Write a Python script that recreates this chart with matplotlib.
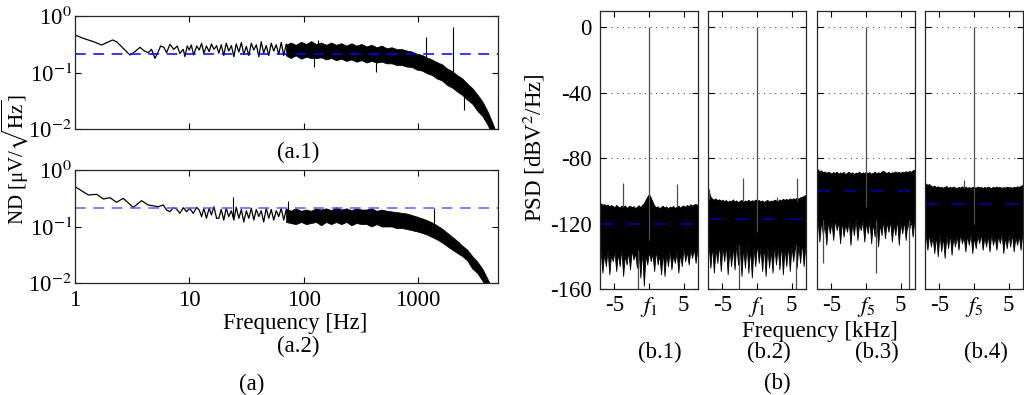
import matplotlib
matplotlib.use("Agg")
import matplotlib.pyplot as plt

plt.rcParams['font.family'] = ['Liberation Serif', 'DejaVu Serif']
plt.rcParams['mathtext.fontset'] = 'stix'
plt.rcParams['axes.unicode_minus'] = False
plt.rcParams['font.size'] = 16.5

# ---------------- dades (a): densitat de soroll ----------------
# tram de baixa freqüència (línia)
a1_f = [1.0, 1.18, 1.45, 1.71, 1.89, 2.13, 2.31, 2.64, 3.02, 3.34, 3.70, 4.01, 4.37,
        4.67, 5.00, 5.35, 5.60, 5.99, 6.32, 6.76, 7.32, 7.83, 8.26, 8.84, 9.14, 9.58,
        9.97, 10.4, 10.9, 11.6, 12.2, 12.8, 13.4, 14.1, 14.9, 15.6, 16.4, 17.3]
a1_v = [0.461, 0.403, 0.351, 0.307, 0.337, 0.376, 0.351, 0.268, 0.204, 0.234, 0.279,
        0.243, 0.224, 0.257, 0.178, 0.234, 0.294, 0.279, 0.224, 0.315, 0.257, 0.294,
        0.218, 0.257, 0.191, 0.294, 0.250, 0.307, 0.204, 0.294, 0.250, 0.328, 0.218,
        0.294, 0.234, 0.320, 0.257, 0.294]
a2_f = [1.00, 1.31, 1.55, 1.77, 2.02, 2.31, 2.64, 3.23, 3.82, 4.37, 5.35, 5.91, 6.32,
        6.76, 7.22, 7.73, 8.26, 8.84, 9.45, 10.1, 10.8, 11.6, 12.2, 12.8, 13.4, 14.1,
        14.9, 15.6, 16.4, 17.3]
a2_v = [0.507, 0.361, 0.371, 0.307, 0.324, 0.268, 0.315, 0.218, 0.286, 0.240, 0.224,
        0.240, 0.196, 0.183, 0.215, 0.204, 0.171, 0.215, 0.183, 0.210, 0.171, 0.218,
        0.196, 0.149, 0.210, 0.140, 0.210, 0.160, 0.224, 0.140]

# tram 18-74 Hz: línia molt oscil·lant
wig_f = [18.1, 19.0, 20.0, 21.0, 22.1, 23.3, 24.5, 25.7, 27.1, 28.5,
         29.9, 31.5, 33.1, 34.8, 36.6, 38.5, 40.5, 42.5, 44.7, 47.0,
         49.5, 52.0, 54.7, 57.5, 60.5, 63.6, 66.9, 70.3, 74.0]
a1_wig = [0.22, 0.31, 0.20, 0.33, 0.24, 0.30, 0.19, 0.32, 0.23, 0.34,
          0.21, 0.29, 0.20, 0.33, 0.25, 0.31, 0.19, 0.35, 0.22, 0.30,
          0.20, 0.33, 0.24, 0.31, 0.21, 0.34, 0.20, 0.32, 0.23]
a2_wig = [0.14, 0.20, 0.13, 0.21, 0.15, 0.19, 0.13, 0.22, 0.14, 0.20,
          0.12, 0.19, 0.14, 0.21, 0.13, 0.20, 0.15, 0.19, 0.12, 0.21,
          0.14, 0.20, 0.13, 0.19, 0.15, 0.21, 0.13, 0.20, 0.14]

# tram dens: envolupants superior/inferior
band_f = [70, 77, 85, 95, 105, 116, 128, 142, 157, 174,
          192, 213, 236, 261, 289, 320, 354, 392, 434, 480,
          531, 588, 651, 720, 797, 882, 976, 1080, 1195, 1323,
          1464, 1620, 1793, 1984, 2196, 2430, 2690, 2977, 3294, 3646,
          4035, 4466, 5000]
a1_hi = [0.31, 0.34, 0.31, 0.35, 0.32, 0.36, 0.32, 0.34, 0.31, 0.34,
         0.31, 0.33, 0.30, 0.33, 0.30, 0.32, 0.29, 0.31, 0.28, 0.30,
         0.27, 0.28, 0.26, 0.26, 0.245, 0.235, 0.215, 0.205, 0.185, 0.17,
         0.152, 0.14, 0.118, 0.106, 0.09, 0.079, 0.064, 0.053, 0.041, 0.031,
         0.021, 0.013, 0.007]
a1_lo = [0.20, 0.18, 0.20, 0.175, 0.19, 0.18, 0.18, 0.185, 0.17, 0.18,
         0.165, 0.175, 0.16, 0.17, 0.155, 0.165, 0.15, 0.16, 0.15, 0.155,
         0.145, 0.145, 0.135, 0.135, 0.127, 0.125, 0.112, 0.108, 0.097, 0.09,
         0.078, 0.072, 0.06, 0.054, 0.046, 0.04, 0.033, 0.028, 0.021, 0.017,
         0.012, 0.008, 0.006]
a2_hi = [0.21, 0.19, 0.21, 0.19, 0.20, 0.19, 0.21, 0.20, 0.21, 0.195,
         0.22, 0.20, 0.21, 0.195, 0.21, 0.20, 0.20, 0.21, 0.19, 0.20,
         0.19, 0.185, 0.18, 0.175, 0.17, 0.16, 0.15, 0.14, 0.13, 0.118,
         0.105, 0.092, 0.078, 0.066, 0.056, 0.046, 0.039, 0.030, 0.024, 0.018,
         0.012, 0.008, 0.006]
a2_lo = [0.12, 0.115, 0.11, 0.12, 0.11, 0.115, 0.12, 0.105, 0.12, 0.11,
         0.12, 0.11, 0.12, 0.105, 0.115, 0.11, 0.11, 0.10, 0.11, 0.10,
         0.10, 0.10, 0.093, 0.094, 0.09, 0.086, 0.082, 0.077, 0.072, 0.065,
         0.059, 0.052, 0.045, 0.039, 0.034, 0.030, 0.025, 0.018, 0.015, 0.011,
         0.008, 0.006, 0.005]

# pics aïllats (freq, baix, alt)
a1_spk_f = [122, 133, 431, 1177, 2015, 2500, 4950]
a1_spk_lo = [0.127, 0.2, 0.103, 0.14, 0.069, 0.022, 0.008]
a1_spk_hi = [0.2, 0.38, 0.16, 0.42, 0.65, 0.04, 0.043]
a2_spk_f = [24.1, 73, 1390]
a2_spk_lo = [0.15, 0.14, 0.11]
a2_spk_hi = [0.328, 0.286, 0.21]

a_floor = [0.21, 0.21]

# ---------------- dades (b): PSD ----------------
khz = [-7.25, -7.0, -6.75, -6.5, -6.25, -6.0, -5.75, -5.5, -5.25, -5.0,
       -4.75, -4.5, -4.25, -4.0, -3.75, -3.5, -3.25, -3.0, -2.75, -2.5,
       -2.25, -2.0, -1.75, -1.5, -1.25, -1.0, -0.75, -0.5, -0.25, 0.0,
       0.25, 0.5, 0.75, 1.0, 1.25, 1.5, 1.75, 2.0, 2.25, 2.5,
       2.75, 3.0, 3.25, 3.5, 3.75, 4.0, 4.25, 4.5, 4.75, 5.0,
       5.25, 5.5, 5.75, 6.0, 6.25, 6.5, 6.75, 7.0, 7.25]

b1_hi = [-108.0, -107.6, -108.5, -108.1, -109.0, -108.3, -109.4, -108.7, -109.2, -110.0,
         -108.6, -109.5, -110.2, -109.0, -109.8, -108.9, -110.4, -109.6, -109.1, -110.0,
         -109.3, -110.5, -109.7, -108.8, -109.9, -108.6, -107.5, -105.5, -103.5, -102.0,
         -104.0, -106.5, -108.9, -110.0, -109.4, -110.6, -109.8, -109.1, -110.3, -109.5,
         -110.8, -109.6, -110.1, -109.2, -110.5, -109.7, -109.0, -110.2, -109.4, -108.9,
         -109.8, -108.6, -109.3, -108.2, -109.0, -108.4, -107.9, -108.6, -108.1]
b1_lo = [-144, -137, -150, -138, -146, -136, -151, -139, -143, -137,
         -149, -138, -146, -135, -152, -139, -145, -137, -148, -136,
         -142, -138, -147, -137, -153, -136, -158, -139, -145, -137,
         -143, -138, -149, -136, -145, -139, -151, -137, -152, -138,
         -146, -136, -148, -139, -144, -137, -150, -138, -146, -135,
         -143, -137, -145, -136, -141, -135, -144, -136, -140]
b2_hi = [-99.5, -100.0, -103.5, -104.8, -105.3, -104.6, -105.8, -105.1, -106.0, -105.4,
         -106.3, -105.6, -106.8, -105.9, -106.4, -105.2, -106.6, -105.8, -106.9, -106.1,
         -105.5, -106.7, -105.9, -106.3, -105.4, -106.5, -105.7, -106.2, -105.3, -106.0,
         -105.6, -106.4, -105.8, -106.9, -106.1, -105.5, -106.6, -105.9, -106.2, -105.4,
         -105.8, -106.3, -105.2, -105.9, -104.8, -105.5, -104.9, -105.6, -104.6, -105.2,
         -104.5, -105.0, -104.2, -104.8, -104.0, -103.6, -103.2, -102.5, -101.8]
b2_lo = [-141, -134, -147, -133, -150, -135, -144, -132, -149, -134,
         -143, -133, -151, -135, -146, -134, -148, -132, -145, -135,
         -152, -134, -147, -133, -150, -135, -153, -134, -146, -132,
         -144, -135, -149, -133, -152, -134, -147, -136, -150, -133,
         -145, -134, -148, -132, -151, -135, -146, -133, -149, -134,
         -143, -132, -147, -133, -144, -131, -146, -134, -140]
b3_hi = [-86.5, -86.8, -88.0, -87.4, -88.6, -88.1, -89.0, -88.3, -88.8, -89.4,
         -88.5, -89.1, -88.2, -89.6, -88.7, -89.2, -88.4, -89.8, -88.9, -88.3,
         -89.3, -88.6, -89.7, -88.8, -89.1, -88.2, -89.5, -88.7, -89.0, -88.4,
         -89.2, -88.5, -89.6, -88.9, -88.3, -89.4, -88.6, -89.1, -88.2, -87.6,
         -88.7, -89.0, -88.3, -89.3, -88.6, -88.9, -88.1, -88.8, -88.4, -89.0,
         -88.2, -88.7, -88.0, -88.5, -87.8, -88.3, -87.5, -87.0, -86.6]
b3_lo = [-125, -119, -131, -118, -127, -120, -133, -118, -126, -119,
         -130, -117, -124, -119, -132, -118, -128, -120, -125, -118,
         -133, -119, -127, -117, -130, -120, -124, -118, -131, -119,
         -126, -118, -132, -119, -128, -117, -134, -120, -127, -118,
         -129, -119, -125, -118, -131, -120, -127, -117, -133, -119,
         -126, -118, -130, -119, -124, -117, -128, -118, -125]
b4_hi = [-95.0, -95.5, -96.3, -95.8, -96.9, -97.3, -96.7, -97.8, -97.2, -97.9,
         -97.4, -98.1, -97.6, -97.0, -98.2, -97.5, -98.0, -97.3, -97.9, -98.3,
         -97.6, -98.0, -97.2, -97.8, -97.4, -98.1, -97.7, -98.2, -97.5, -97.8,
         -98.0, -97.3, -97.9, -97.5, -98.3, -97.6, -98.1, -97.4, -97.9, -98.2,
         -97.5, -98.0, -97.3, -97.8, -97.6, -98.2, -97.7, -98.0, -97.4, -97.9,
         -97.6, -98.1, -97.5, -97.8, -97.2, -97.6, -97.0, -96.5, -96.0]
b4_lo = [-131, -127, -136, -126, -134, -128, -138, -127, -140, -126,
         -137, -128, -141, -127, -135, -126, -139, -128, -134, -127,
         -136, -126, -132, -128, -137, -127, -133, -126, -138, -128,
         -135, -127, -132, -126, -136, -128, -134, -127, -137, -126,
         -133, -128, -136, -127, -132, -126, -138, -128, -135, -127,
         -134, -126, -137, -128, -133, -127, -136, -126, -131]

b1_spk_f = [0.0, -3.8, 4.06, -1.6]
b1_spk_top = [0, -95, -95.5, -136]
b1_spk_bot = [-130, -110, -110, -160]
b2_spk_f = [0.0, -2.07, 5.83, 2.9, -6.9, -2.65, 5.7]
b2_spk_top = [0, -92, -92, -104, -99, -133, -133]
b2_spk_bot = [-125, -106, -106, -106, -105, -160, -160]
b3_spk_f = [0.0, -6.3, 1.45, 6.2]
b3_spk_top = [0, -118, -118, -118]
b3_spk_bot = [-110, -144, -150, -160]
b4_spk_f = [0.0, -1.5]
b4_spk_top = [0, -93.5]
b4_spk_bot = [-120, -98]

b_floor = [-120.5, -117, -100.3, -108.3]
b_names = ['(b.1)', '(b.2)', '(b.3)', '(b.4)']
b_carrier = ['$f_1$', '$f_1$', '$f_5$', '$f_5$']

# ---------------- figura ----------------
W, H = 1024, 395
fig = plt.figure(figsize=(W / 100, H / 100), dpi=100)


def caixa(l, t, r, b):
    return [l / W, 1 - b / H, (r - l) / W, (b - t) / H]


def text_px(x, y, s, **kw):
    fig.text(x / W, 1 - y / H, s, ha='center', va='center', **kw)


def estil(ax):
    ax.tick_params(direction='in', top=True, right=True, length=4, width=0.8)
    for sp in ax.spines.values():
        sp.set_linewidth(0.9)
        sp.set_color('0.15')


# (a.1) i (a.2)
ax_a1 = fig.add_axes(caixa(75, 16, 498, 129))
ax_a2 = fig.add_axes(caixa(75, 170, 498, 283))
a_data = [(ax_a1, a1_f, a1_v, a1_wig, a1_hi, a1_lo, a1_spk_f, a1_spk_lo, a1_spk_hi, 'blue'),
          (ax_a2, a2_f, a2_v, a2_wig, a2_hi, a2_lo, a2_spk_f, a2_spk_lo, a2_spk_hi, '#5c5cff')]
for i, (ax, f, v, wig, hi, lo, sf, slo, shi, col) in enumerate(a_data):
    ax.set_xscale('log')
    ax.set_yscale('log')
    ax.plot(f, v, color='k', lw=0.9)
    ax.plot([f[-1]] + wig_f, [v[-1]] + wig, color='k', lw=0.9)
    ax.fill_between(band_f, lo, hi, color='k', lw=0.5, edgecolor='k')
    ax.vlines(sf, slo, shi, color='k', lw=0.8)
    ax.axhline(a_floor[i], color=col, lw=1.1, linestyle=(0, (7, 5)))
    ax.set_xlim(1, 5000)
    ax.set_ylim(0.01, 1)
    ax.set_yticks([0.01, 0.1, 1])
    ax.set_yticklabels(['10$^{-2}$', '10$^{-1}$', '10$^{0}$'])
    ax.set_xticks([1, 10, 100, 1000])
    ax.minorticks_off()
    estil(ax)
    ax.tick_params(axis='y', pad=2)
ax_a1.set_xticklabels([])
ax_a2.set_xticklabels(['1', '10', '100', '1000'])
ax_a2.tick_params(axis='x', pad=5)

text_px(298, 152, '(a.1)')
text_px(295, 323, 'Frequency [Hz]')
text_px(298, 346, '(a.2)')
text_px(252, 384, '(a)')
text_px(15.5, 160, 'ND [μV/$\\sqrt{\\mathrm{Hz}}$]', rotation=90, fontsize=15)

# (b.1) ... (b.4)
b_left = [600, 708, 817, 925]
b_right = [698, 806, 915, 1023]
b_hi = [b1_hi, b2_hi, b3_hi, b4_hi]
b_lo = [b1_lo, b2_lo, b3_lo, b4_lo]
b_sf = [b1_spk_f, b2_spk_f, b3_spk_f, b4_spk_f]
b_st = [b1_spk_top, b2_spk_top, b3_spk_top, b4_spk_top]
b_sb = [b1_spk_bot, b2_spk_bot, b3_spk_bot, b4_spk_bot]
b_centre = [660, 769, 877, 986]

for i in range(4):
    ax = fig.add_axes(caixa(b_left[i], 11, b_right[i], 289))
    ax.fill_between(khz, b_lo[i], b_hi[i], color='k', lw=0.6, edgecolor='k')
    ax.vlines(b_sf[i], b_sb[i], b_st[i], color='0.3', lw=0.9)
    ax.axhline(b_floor[i], color='#0000b0', lw=1.1, linestyle=(0, (8.5, 9)))
    ax.set_xlim(-7.1, 7.1)
    ax.set_ylim(-160, 10)
    ax.set_yticks([0, -40, -80, -120, -160])
    ax.set_xticks([-5, 0, 5])
    ax.set_xticklabels(['-5', b_carrier[i], '5'])
    ax.yaxis.grid(True, linestyle=(0, (1, 4)), color='0.3', lw=0.8)
    ax.set_axisbelow(True)
    estil(ax)
    ax.tick_params(axis='x', pad=4)
    ax.tick_params(axis='y', pad=6)
    if i > 0:
        ax.set_yticklabels([])
    text_px(b_centre[i], 352, b_names[i])

text_px(820, 331, 'Frequency [kHz]')
text_px(777, 383, '(b)')
text_px(534, 148, 'PSD [dBV$^2$/Hz]', rotation=90)

fig.savefig('out.png', dpi=100)
